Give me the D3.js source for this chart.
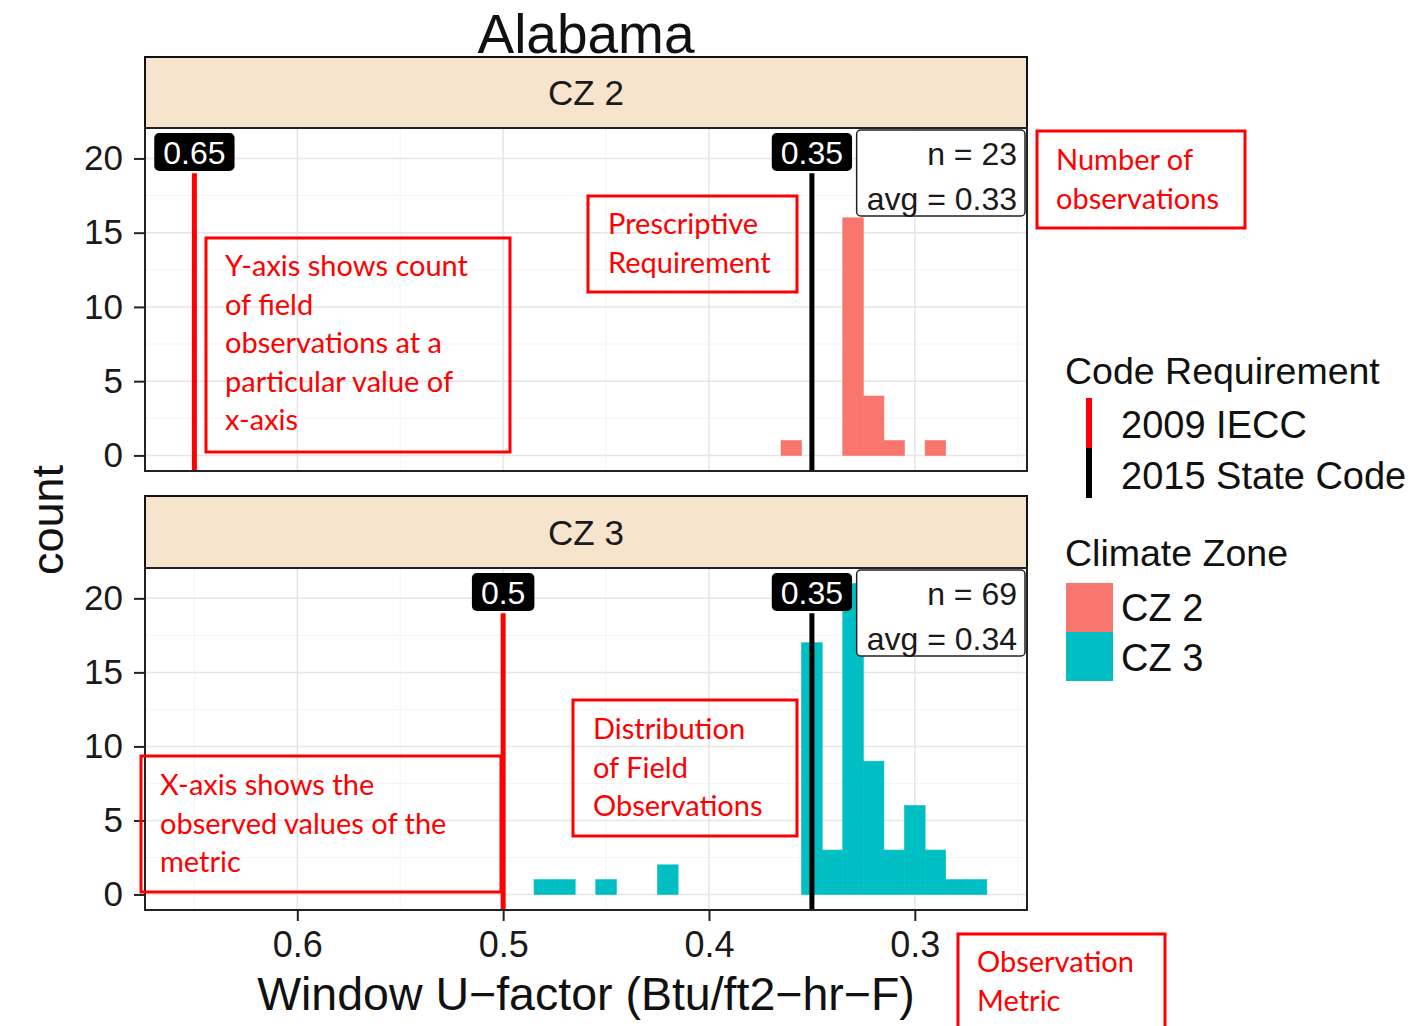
<!DOCTYPE html>
<html>
<head>
<meta charset="utf-8">
<script src="https://cdn.jsdelivr.net/npm/d3@7"></script>
<style>
body { margin: 0; background: #fff; }
svg { display: block; }
text { font-family: "Liberation Sans", Arial, sans-serif; }
.ann text { font-family: Lato, "Open Sans", sans-serif; }
</style>
</head>
<body>
<div id="chart"></div>
<script>
// data
const zones = ["CZ 2", "CZ 3"]
const zoneColors = ["#F8766D", "#00BFC4"]
const cz2Bins = [0.36, 0.33, 0.32, 0.31, 0.29]
const cz2Counts = [1, 16, 4, 1, 1]
const cz3Bins = [0.48, 0.47, 0.45, 0.42, 0.35, 0.34, 0.33, 0.32, 0.31, 0.30, 0.29, 0.28, 0.27]
const cz3Counts = [1, 1, 1, 2, 17, 3, 21, 9, 3, 6, 3, 1, 1]
const ieccValues = [0.65, 0.5]
const stateValues = [0.35, 0.35]
const nObs = [23, 69]
const avgValues = ["0.33", "0.34"]
const xTicks = [0.6, 0.5, 0.4, 0.3]
const yTicks = [0, 5, 10, 15, 20]
const codeLabels = ["2009 IECC", "2015 State Code"]
const codeColors = ["#FF0000", "#000000"]
const binWidth = 0.01

const annotations = [
	{box: [206, 238, 510, 452], tx: 225, ty: 266, lines: ["Y-axis shows count", "of field", "observations at a", "particular value of", "x-axis"]},
	{box: [588, 196, 797, 292], tx: 608, ty: 224, lines: ["Prescriptive", "Requirement"]},
	{box: [1037, 131, 1245, 228], tx: 1056, ty: 160, lines: ["Number of", "observations"]},
	{box: [141, 756, 501, 892], tx: 160, ty: 785, lines: ["X-axis shows the", "observed values of the", "metric"]},
	{box: [573, 700, 797, 836], tx: 593, ty: 729, lines: ["Distribution", "of Field", "Observations"]},
	{box: [958, 934, 1165, 1030], tx: 977, ty: 962, lines: ["Observation", "Metric"]}
]

const width = 1421, height = 1026
const left = 145, right = 1027
const panels = [
	{strip: [57, 128], plot: [128, 471], bins: cz2Bins, counts: cz2Counts},
	{strip: [496, 568], plot: [568, 910], bins: cz3Bins, counts: cz3Counts}
]

const svg = d3.select("#chart").append("svg")
	.attr("width", width)
	.attr("height", height)

svg.append("rect").attr("width", width).attr("height", height).attr("fill", "#fff")

// reversed x axis, like scale_x_reverse
const x = d3.scaleLinear().domain([0.674, 0.2455]).range([left, right])

panels.forEach((p, i) => {
	const y = d3.scaleLinear().domain([-1.05, 22.05]).range([p.plot[1], p.plot[0]])

	// strip
	svg.append("rect")
		.attr("x", left).attr("y", p.strip[0])
		.attr("width", right - left).attr("height", p.strip[1] - p.strip[0])
		.attr("fill", "#F6E4CD")
		.attr("stroke", "#111").attr("stroke-width", 2)
	svg.append("text")
		.attr("x", (left + right) / 2).attr("y", (p.strip[0] + p.strip[1]) / 2)
		.attr("dy", "0.36em")
		.attr("text-anchor", "middle")
		.attr("font-size", 35)
		.attr("fill", "#1a1a1a")
		.text(zones[i])

	const g = svg.append("g")

	// grid
	const minorX = [0.65, 0.55, 0.45, 0.35, 0.25]
	const minorY = [2.5, 7.5, 12.5, 17.5]
	g.selectAll(".minx").data(minorX).join("line")
		.attr("x1", d => x(d)).attr("x2", d => x(d))
		.attr("y1", p.plot[0]).attr("y2", p.plot[1])
		.attr("stroke", "#F4F4F4").attr("stroke-width", 1)
	g.selectAll(".miny").data(minorY).join("line")
		.attr("class", "miny")
		.attr("x1", left).attr("x2", right)
		.attr("y1", d => y(d)).attr("y2", d => y(d))
		.attr("stroke", "#F4F4F4").attr("stroke-width", 1)
	g.selectAll(".gx").data(xTicks).join("line")
		.attr("class", "gx")
		.attr("x1", d => x(d)).attr("x2", d => x(d))
		.attr("y1", p.plot[0]).attr("y2", p.plot[1])
		.attr("stroke", "#E6E6E6").attr("stroke-width", 1.5)
	g.selectAll(".gy").data(yTicks).join("line")
		.attr("class", "gy")
		.attr("x1", left).attr("x2", right)
		.attr("y1", d => y(d)).attr("y2", d => y(d))
		.attr("stroke", "#E6E6E6").attr("stroke-width", 1.5)

	// histogram bars
	g.selectAll(".bar").data(p.bins.map((b, j) => ({bin: b, count: p.counts[j]}))).join("rect")
		.attr("class", "bar")
		.attr("x", d => x(d.bin + binWidth / 2))
		.attr("width", d => x(d.bin - binWidth / 2) - x(d.bin + binWidth / 2))
		.attr("y", d => y(d.count))
		.attr("height", d => y(0) - y(d.count))
		.attr("fill", zoneColors[i])
		.attr("stroke", zoneColors[i]).attr("stroke-width", 0.6)

	// code requirement lines
	const reqs = [ieccValues[i], stateValues[i]]
	reqs.forEach((v, k) => {
		g.append("line")
			.attr("x1", x(v)).attr("x2", x(v))
			.attr("y1", y(19)).attr("y2", p.plot[1])
			.attr("stroke", codeColors[k]).attr("stroke-width", 5)
	})

	// value labels
	reqs.forEach(v => {
		const lg = g.append("g").attr("transform", `translate(${x(v)},${p.plot[0] + 5})`)
		const t = lg.append("text")
			.attr("y", 19).attr("dy", "0.36em")
			.attr("text-anchor", "middle")
			.attr("font-size", 32)
			.attr("fill", "#fff")
			.text(v === 0.5 ? "0.5" : v.toFixed(2))
		const w = t.node().getComputedTextLength()
		lg.insert("rect", "text")
			.attr("x", -w / 2 - 9).attr("y", 0)
			.attr("width", w + 18).attr("height", 38)
			.attr("rx", 5)
			.attr("fill", "#000")
	})

	// n / avg label
	const ng = g.append("g").attr("transform", `translate(${right - 2},${p.plot[0] + 2})`)
	const lines = [`n = ${nObs[i]}`, `avg = ${avgValues[i]}`]
	const txt = ng.selectAll("text").data(lines).join("text")
		.attr("x", -8)
		.attr("y", (d, k) => 23 + k * 45)
		.attr("dy", "0.36em")
		.attr("text-anchor", "end")
		.attr("font-size", 32)
		.attr("fill", "#1a1a1a")
		.text(d => d)
	const maxW = d3.max(txt.nodes(), n => n.getComputedTextLength())
	ng.insert("rect", "text")
		.attr("x", -maxW - 18).attr("y", 0)
		.attr("width", maxW + 18).attr("height", 86)
		.attr("rx", 4)
		.attr("fill", "#fff")
		.attr("stroke", "#222").attr("stroke-width", 1.5)

	// panel border
	svg.append("rect")
		.attr("x", left).attr("y", p.plot[0])
		.attr("width", right - left).attr("height", p.plot[1] - p.plot[0])
		.attr("fill", "none")
		.attr("stroke", "#222").attr("stroke-width", 2)

	// y axis
	const ya = svg.append("g")
		.attr("transform", `translate(${left},0)`)
		.call(d3.axisLeft(y).tickValues(yTicks).tickSize(11).tickPadding(11))
	ya.select(".domain").remove()
	ya.selectAll("line").attr("stroke", "#222").attr("stroke-width", 2)
	ya.selectAll("text").attr("font-size", 35).attr("fill", "#1a1a1a")
		.attr("font-family", "Liberation Sans, Arial, sans-serif")
})

// x axis under the bottom panel
const xa = svg.append("g")
	.attr("transform", `translate(0,${panels[1].plot[1]})`)
	.call(d3.axisBottom(x).tickValues(xTicks).tickFormat(d3.format(".1f")).tickSize(11).tickPadding(10))
xa.select(".domain").remove()
xa.selectAll("line").attr("stroke", "#222").attr("stroke-width", 2)
xa.selectAll("text").attr("font-size", 36).attr("fill", "#1a1a1a")
	.attr("font-family", "Liberation Sans, Arial, sans-serif")

// titles
svg.append("text")
	.attr("x", 586).attr("y", 1010)
	.attr("text-anchor", "middle")
	.attr("font-size", 46.5)
	.attr("fill", "#111")
	.text("Window U\u2212factor (Btu/ft2\u2212hr\u2212F)")

svg.append("text")
	.attr("transform", "translate(63,520) rotate(-90)")
	.attr("text-anchor", "middle")
	.attr("font-size", 45)
	.attr("fill", "#111")
	.text("count")

svg.append("text")
	.attr("x", 586).attr("y", 53)
	.attr("text-anchor", "middle")
	.attr("font-size", 55)
	.attr("fill", "#111")
	.text("Alabama")

// legend
const leg = svg.append("g")
leg.append("text").attr("x", 1065).attr("y", 384).attr("font-size", 37.5).attr("fill", "#111").text("Code Requirement")
codeLabels.forEach((lab, k) => {
	leg.append("line")
		.attr("x1", 1089).attr("x2", 1089)
		.attr("y1", 398 + k * 50).attr("y2", 448 + k * 50)
		.attr("stroke", codeColors[k]).attr("stroke-width", 6)
	leg.append("text")
		.attr("x", 1121).attr("y", 424 + k * 51).attr("dy", "0.36em")
		.attr("font-size", 38).attr("fill", "#111")
		.text(lab)
})
leg.append("text").attr("x", 1065).attr("y", 566).attr("font-size", 37.5).attr("fill", "#111").text("Climate Zone")
zones.forEach((z, k) => {
	leg.append("rect")
		.attr("x", 1066).attr("y", 583 + k * 49)
		.attr("width", 47).attr("height", 49)
		.attr("fill", zoneColors[k])
	leg.append("text")
		.attr("x", 1121).attr("y", 607 + k * 50).attr("dy", "0.36em")
		.attr("font-size", 38).attr("fill", "#111")
		.text(z)
})

// red call-out boxes
const ann = svg.append("g").attr("class", "ann")
annotations.forEach(a => {
	ann.append("rect")
		.attr("x", a.box[0]).attr("y", a.box[1])
		.attr("width", a.box[2] - a.box[0]).attr("height", a.box[3] - a.box[1])
		.attr("fill", "none")
		.attr("stroke", "#FF0000").attr("stroke-width", 3)
	ann.selectAll(null).data(a.lines).join("text")
		.attr("x", a.tx)
		.attr("y", (d, k) => a.ty + k * 38.5)
		.attr("dy", "0.36em")
		.attr("font-size", 29)
		.attr("fill", "#FF0000")
		.text(d => d)
})
</script>
</body>
</html>
